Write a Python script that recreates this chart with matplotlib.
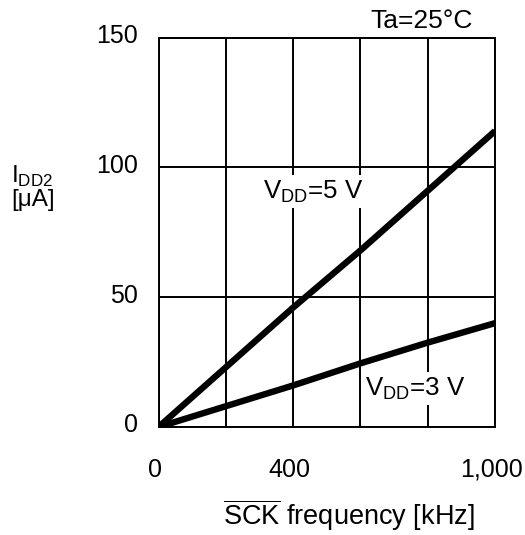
import numpy as np
import matplotlib
matplotlib.use("Agg")
import matplotlib.pyplot as plt
import matplotlib.transforms as mtransforms

plt.rcParams['font.family'] = ['Liberation Sans', 'DejaVu Sans']
plt.rcParams['font.size'] = 18

# SCK frequency [kHz] vs supply current [uA]
freq = [0, 200, 400, 600, 800, 1000]
idd_5v = [0, 23, 46, 68, 91, 114]
idd_3v = [0, 8, 16, 24.5, 32.5, 40]

xticks = [0, 400, 1000]
xtick_labels = ['0', '400', '1,000']
xminor = [200, 600, 800]
yticks = [0, 50, 100, 150]

fig = plt.figure(figsize=(5.25, 5.35), dpi=100)
ax = fig.add_axes([0.302, 0.2019, 0.641, 0.728])

ax.plot(freq, idd_5v, color='black', lw=4.6, solid_capstyle='butt', zorder=3)
ax.plot(freq, idd_3v, color='black', lw=4.6, solid_capstyle='butt', zorder=3)

ax.set_xlim(0, 1000)
ax.set_ylim(0, 150)
ax.set_xticks(xticks)
ax.set_xticklabels(xtick_labels)
ax.set_xticks(xminor, minor=True)
ax.set_yticks(yticks)
ax.tick_params(which='both', length=0)
ax.tick_params(axis='x', pad=22)
ax.tick_params(axis='y', pad=15)
ax.grid(True, which='both', color='black', lw=1.4, zorder=1)
ax.set_axisbelow(True)
for sp in ax.spines.values():
    sp.set_linewidth(1.4)

# nudge tick labels like the original
off_x = mtransforms.ScaledTranslation(-4/100, 0, fig.dpi_scale_trans)
for lab in ax.get_xticklabels():
    lab.set_transform(lab.get_transform() + off_x)
off_y = mtransforms.ScaledTranslation(0, 4/100, fig.dpi_scale_trans)
for lab in ax.get_yticklabels():
    lab.set_transform(lab.get_transform() + off_y)

box = dict(facecolor='white', edgecolor='none', pad=2.5)
ax.text(310, 88, 'V$_{\\mathregular{DD}}$=5 V', va='baseline', ha='left',
        fontsize=18.6, bbox=box, zorder=4)
ax.text(614, 12.3, 'V$_{\\mathregular{DD}}$=3 V', va='baseline', ha='left',
        fontsize=18.6, bbox=box, zorder=4)

fig.text(0.901, 1 - 28/535, 'Ta=25°C', ha='right', va='baseline', fontsize=19)
fig.text(11/525, 1 - 206/535, 'I$_{\\mathregular{DD2}}$\n[μA]', ha='left',
         va='baseline', linespacing=1.0, fontsize=17.5)
fig.text(223/525, 1 - 525/535, '$\\overline{\\mathregular{SCK}}$ frequency [kHz]',
         ha='left', va='baseline', fontsize=19.5)

fig.savefig('out.png', dpi=100)
